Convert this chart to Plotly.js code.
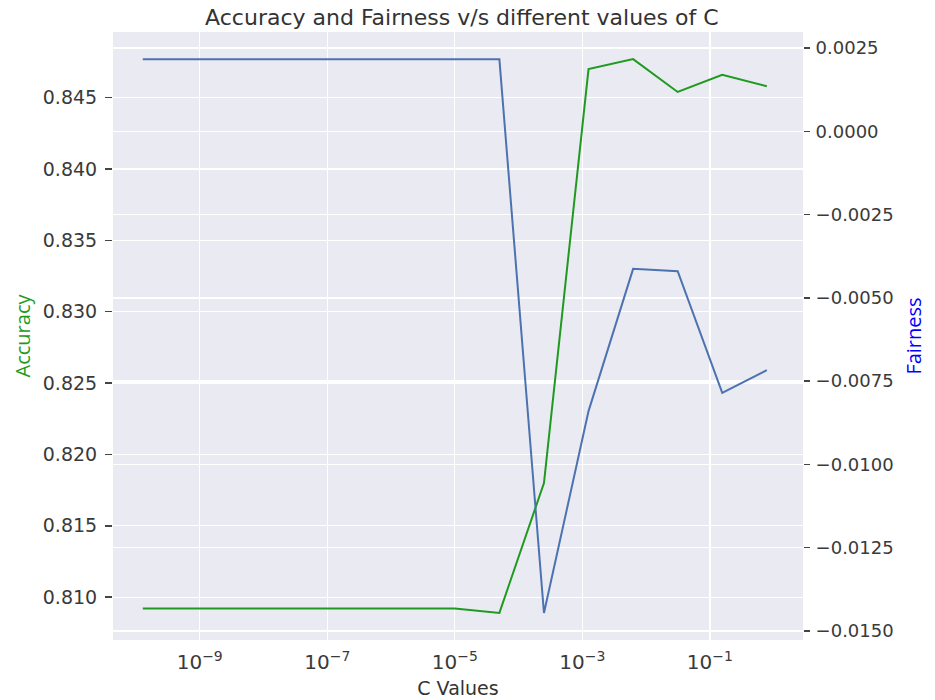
<!DOCTYPE html>
<html>
<head>
<meta charset="utf-8">
<script src="https://cdn.plot.ly/plotly-3.0.1.min.js"></script>
<style>html,body{margin:0;padding:0;background:#fff;}#chart{width:935px;height:700px;}</style>
</head>
<body>
<div id="chart"></div>
<script>
// C values: 1e-5 * 5^k for k = -7..7
const cValues = [1.28e-10, 6.4e-10, 3.2e-9, 1.6e-8, 8e-8, 4e-7, 2e-6, 1e-5, 5e-5, 2.5e-4, 1.25e-3, 6.25e-3, 0.03125, 0.15625, 0.78125];
const accuracy = [0.8092, 0.8092, 0.8092, 0.8092, 0.8092, 0.8092, 0.8092, 0.8092, 0.8089, 0.8180, 0.8470, 0.8477, 0.8454, 0.8466, 0.8458];
const fairness = [0.00216, 0.00216, 0.00216, 0.00216, 0.00216, 0.00216, 0.00216, 0.00216, 0.00216, -0.01446, -0.0084, -0.00413, -0.0042, -0.00785, -0.00717];
const leftTicks = [0.810, 0.815, 0.820, 0.825, 0.830, 0.835, 0.840, 0.845];
const rightTicks = [0.0025, 0.0, -0.0025, -0.005, -0.0075, -0.01, -0.0125, -0.015];

const tickFont = {family: 'DejaVu Sans', size: 18, color: '#3a3a3a'};

const traces = [
  {x: cValues, y: accuracy, type: 'scatter', mode: 'lines', name: 'Accuracy',
   line: {color: '#1f9a1f', width: 2}, yaxis: 'y'},
  {x: cValues, y: fairness, type: 'scatter', mode: 'lines', name: 'Fairness',
   line: {color: '#4C72B0', width: 2}, yaxis: 'y2'}
];

const layout = {
  width: 935, height: 700,
  margin: {l: 113, r: 132, t: 32, b: 60},
  paper_bgcolor: '#ffffff',
  plot_bgcolor: '#EAEAF2',
  showlegend: false,
  title: {text: 'Accuracy and Fairness v/s different values of C',
          font: {family: 'DejaVu Sans', size: 22, color: '#333333'},
          x: 0.494, xanchor: 'center', y: 0.976, yanchor: 'middle'},
  xaxis: {type: 'log', range: [-10.36, 0.46], tick0: 1, dtick: 2,
          exponentformat: 'power', showgrid: true, gridcolor: '#ffffff', gridwidth: 1.3,
          zeroline: false, showline: false, ticks: '', ticklabelstandoff: 8,
          tickfont: {family: 'DejaVu Sans', size: 16, color: '#3a3a3a'},
          title: {text: 'C Values', font: {family: 'DejaVu Sans', size: 19, color: '#333333'}, standoff: 8}},
  yaxis: {range: [0.807, 0.8496], tickvals: leftTicks, tickformat: '.3f',
          showgrid: true, gridcolor: '#ffffff', gridwidth: 1.3, zeroline: false, showline: false,
          ticks: 'outside', ticklen: 7, tickcolor: '#444444', tickwidth: 1.5,
          tickfont: {family: 'DejaVu Sans', size: 19, color: '#3a3a3a'},
          ticklabelstandoff: 4,
          title: {text: 'Accuracy', font: {family: 'Open Sans', size: 20, color: '#1f9a1f'}, standoff: 6}},
  yaxis2: {overlaying: 'y', side: 'right', range: [-0.01527, 0.00298], tickvals: rightTicks, tickformat: '.4f',
           showgrid: true, gridcolor: '#ffffff', gridwidth: 1.3, zeroline: false, showline: false,
           ticks: 'outside', ticklen: 6, tickcolor: '#444444', tickwidth: 1.5, tickfont: tickFont,
           ticklabelstandoff: 2,
           title: {text: 'Fairness', font: {family: 'Open Sans', size: 20, color: '#0000ff'}, standoff: 14}}
};

Plotly.newPlot('chart', traces, layout, {displayModeBar: false, staticPlot: true});
</script>
</body>
</html>
